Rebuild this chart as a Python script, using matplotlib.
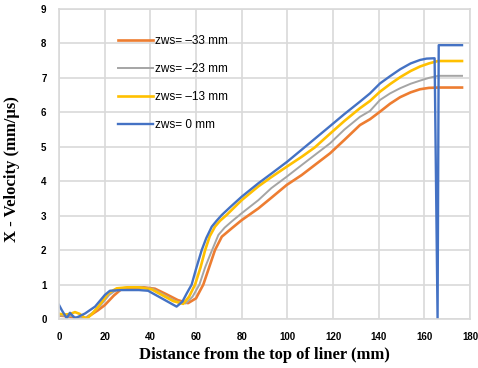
import matplotlib
matplotlib.use("Agg")
import matplotlib.pyplot as plt

# ---- data ----
x_orange = [0, 4, 8, 11, 14, 17, 20, 24, 27, 30, 37, 42, 47, 52, 56.5, 60, 63.2, 65.5, 68.3, 71.3,
            75.6, 80, 87.3, 93, 99.7, 106.3, 112, 118.7, 125, 131.8, 136.2, 140.6, 145, 149.4,
            154, 158.1, 162, 166, 176.5]
y_orange = [0.1, 0.08, 0.02, 0.0, 0.12, 0.25, 0.4, 0.68, 0.85, 0.9, 0.92, 0.88, 0.72, 0.55, 0.46,
            0.6, 1.0, 1.45, 2.0, 2.39, 2.63, 2.87, 3.21, 3.52, 3.89, 4.18, 4.47, 4.81, 5.2, 5.63,
            5.8, 6.02, 6.25, 6.44, 6.58, 6.67, 6.71, 6.72, 6.72]

x_gray = [0, 3, 6, 9, 12, 15, 18, 22, 26, 30, 36, 41, 46, 51, 55.5, 58.5, 61.5, 64, 66.1, 69.8,
          72.5, 75.6, 80, 87.3, 93, 99.7, 106.3, 112, 118.7, 125, 131.8, 136.2, 140.6, 145,
          149.4, 154, 158.1, 162, 166, 176.5]
y_gray = [0.1, 0.1, 0.08, 0.02, 0.05, 0.2, 0.38, 0.7, 0.88, 0.92, 0.92, 0.88, 0.7, 0.52, 0.45,
          0.65, 1.0, 1.5, 1.85, 2.44, 2.65, 2.83, 3.07, 3.45, 3.8, 4.13, 4.47, 4.76, 5.1, 5.5,
          5.87, 6.04, 6.36, 6.55, 6.7, 6.83, 6.92, 7.0, 7.06, 7.06]

x_yellow = [0, 3, 5, 7, 9, 12, 14.5, 17.2, 21.6, 25.3, 30, 35, 40.6, 45, 50, 54.4, 57, 59.6, 62,
            64, 66, 68.3, 70.5, 73.4, 80, 87.3, 93, 99.7, 106.3, 112, 118.7, 125, 131.8, 136.2,
            140.6, 145, 149.4, 154, 158.1, 162, 166, 176.5]
y_yellow = [0.15, 0.13, 0.15, 0.2, 0.15, 0.0, 0.15, 0.36, 0.75, 0.89, 0.92, 0.92, 0.86, 0.7,
            0.52, 0.44, 0.65, 1.0, 1.5, 2.0, 2.4, 2.68, 2.85, 3.02, 3.45, 3.85, 4.12, 4.42, 4.71,
            4.98, 5.38, 5.75, 6.12, 6.33, 6.6, 6.82, 7.02, 7.2, 7.33, 7.42, 7.49, 7.49]

x_blue = [0, 1.2, 3.4, 4.8, 7, 11.4, 15.8, 20.1, 22.3, 27.5, 35, 39, 45, 51.5, 54, 56, 58.1, 60,
          62.5, 64.5, 66.9, 69, 71.3, 75, 80, 87.3, 93, 100, 110, 118.7, 125, 131.8, 136.2,
          140.6, 145, 149.4, 154, 158.1, 161, 164.5, 165.8, 166.3, 176.5]
y_blue = [0.41, 0.26, 0.02, 0.18, 0.02, 0.16, 0.36, 0.70, 0.82, 0.84, 0.84, 0.82, 0.6, 0.36,
          0.5, 0.75, 1.0, 1.45, 2.0, 2.35, 2.68, 2.85, 3.02, 3.25, 3.55, 3.94, 4.22, 4.57, 5.12,
          5.6, 5.95, 6.31, 6.55, 6.84, 7.05, 7.25, 7.42, 7.52, 7.56, 7.57, 0.0, 7.95, 7.95]

labels = ["zws= \u201333 mm", "zws= \u201323 mm", "zws= \u201313 mm", "zws= 0 mm"]
x_ticks = [0, 20, 40, 60, 80, 100, 120, 140, 160, 180]
y_ticks = [0, 1, 2, 3, 4, 5, 6, 7, 8, 9]

# ---- plot ----
fig = plt.figure(figsize=(4.78, 3.68), dpi=100)
ax = fig.add_axes([59/478, 1-319/368, 411/478, 310/368])

series = [(x_orange, y_orange, "#ED7D31", 1.9),
          (x_gray, y_gray, "#A5A5A5", 1.4),
          (x_yellow, y_yellow, "#FFC000", 1.9),
          (x_blue, y_blue, "#4472C4", 1.7)]
for (xs, ys, c, lw), lab in zip(series, labels):
    ax.plot(xs, ys, color=c, lw=lw, label=lab, solid_joinstyle="round")

ax.set_xlim(0, 180)
ax.set_ylim(0, 9)
ax.set_xticks(x_ticks)
ax.set_yticks(y_ticks)
ax.grid(True, color="#D9D9D9", lw=1.2)
ax.set_axisbelow(True)
for s in ax.spines.values():
    s.set_color("#D9D9D9")
    s.set_linewidth(1.2)
ax.tick_params(length=0, pad=9, labelsize=7)
for t in ax.get_xticklabels() + ax.get_yticklabels():
    t.set_fontweight("bold")
    t.set_family("Liberation Sans")

leg = ax.legend(loc="upper left", bbox_to_anchor=(0.1436, 0.916), frameon=False,
                borderaxespad=0, borderpad=0, handlelength=3.0, handletextpad=0.15,
                labelspacing=1.35, prop={"family": "Liberation Sans", "size": 8.5})

fig.text(264.5/478, 1-355/368, "Distance from the top of liner (mm)", ha="center", va="center",
         family="Liberation Serif", fontweight="bold", fontsize=12)
fig.text(12/478, 1-169/368, "X - Velocity (mm/\u03bcs)", ha="center", va="center", rotation=90,
         family="Liberation Serif", fontweight="bold", fontsize=12)

fig.savefig("out.png", dpi=100)
